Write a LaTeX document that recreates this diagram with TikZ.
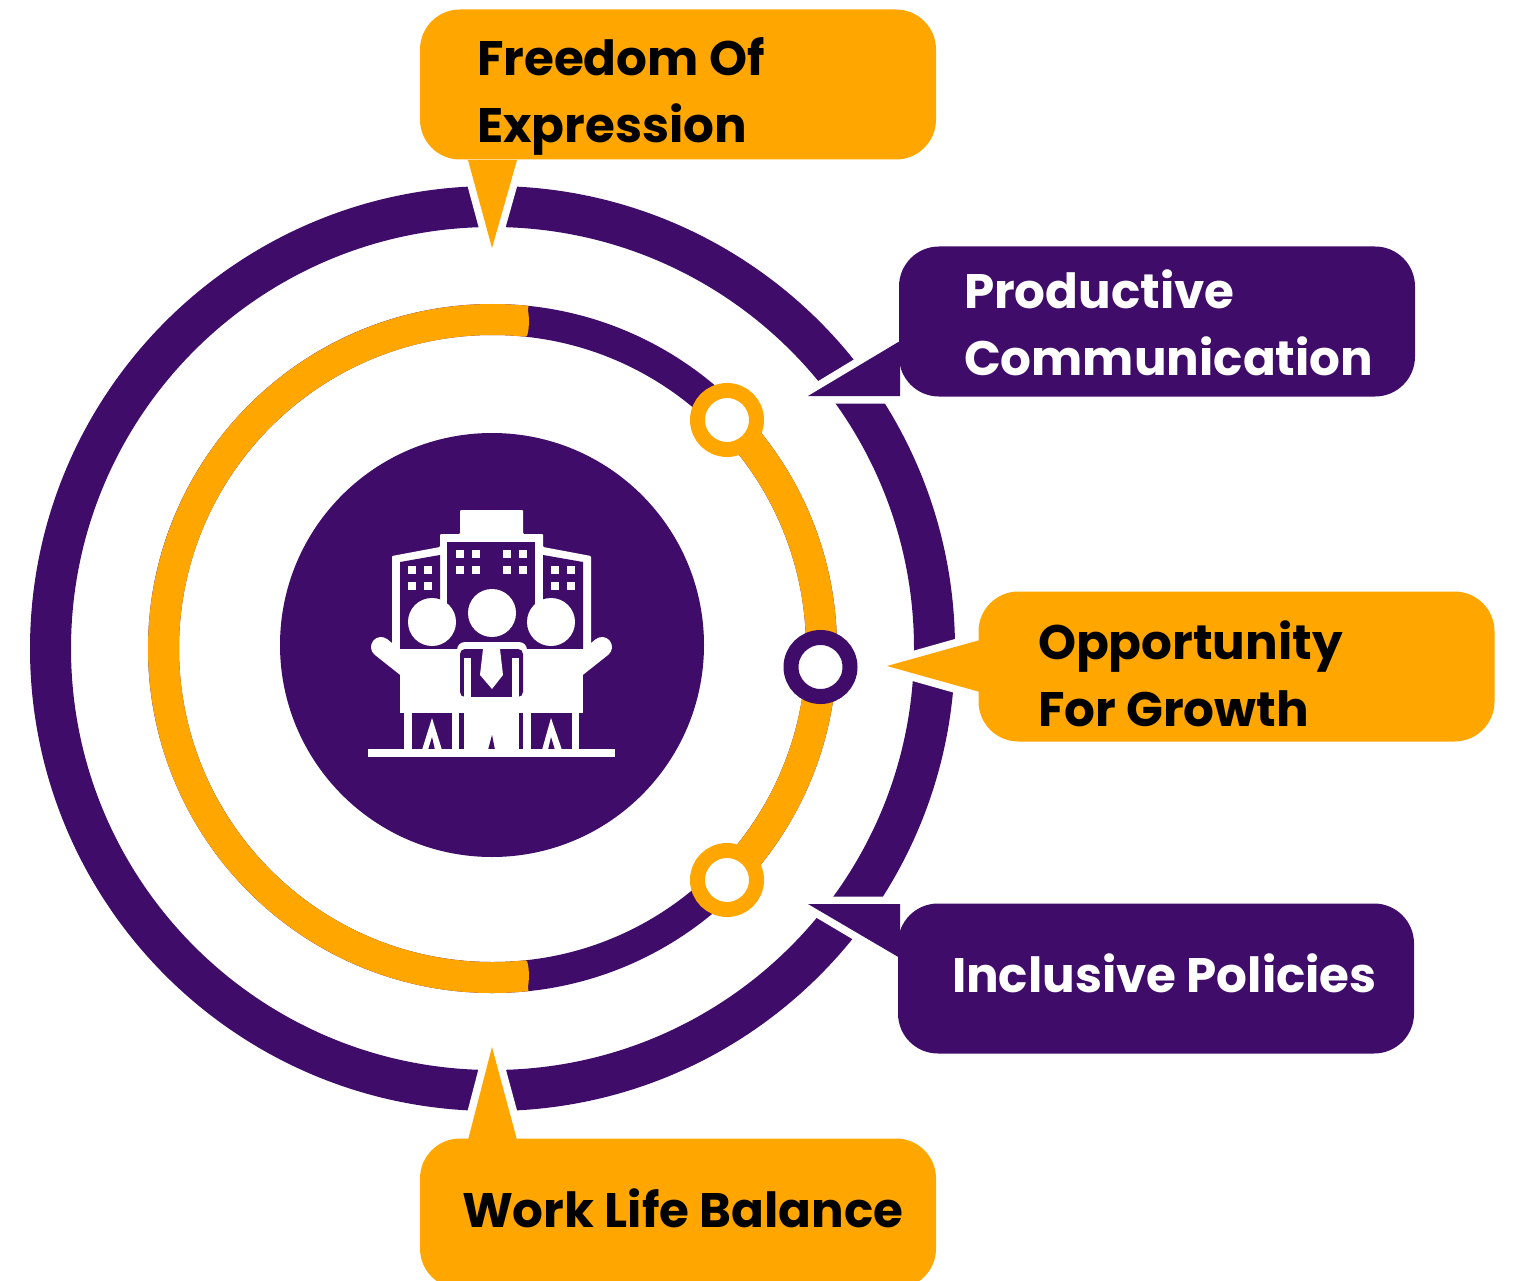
\documentclass[tikz,border=0pt]{standalone}
\usepackage{fontspec}
\setmainfont{Poppins}
\usetikzlibrary{positioning,calc}
\definecolor{ringpurple}{HTML}{3F0C69}
\definecolor{ringorange}{HTML}{FFA600}
\tikzset{
    calloutbox/.style={rounded corners=40pt,minimum width=516pt,minimum height=150pt,inner sep=0pt},
    calloutlabel/.style={inner sep=0pt,align=left,font=\fontsize{48.4}{67}\selectfont\bfseries},
    tailgap/.style={draw=white,line width=15pt},
    dotmark/.style={circle,minimum size=59pt,inner sep=0pt,line width=15pt,fill=white}
}
\begin{document}
\begin{tikzpicture}[x=1pt,y=-1pt]
    \path[use as bounding box,clip] (0,0) rectangle (1515,1281);
    \coordinate (hub) at (492.5,648.5);

    % Outer Ring
    \draw[ringpurple,line width=41pt] (hub) circle[radius=442];

    % Middle Ring
    \draw[ringpurple,line width=31pt] (hub) circle[radius=329];
    \draw[ringorange,line width=31pt] (hub) ++(84:329) arc[start angle=84,end angle=276,radius=329];
    \draw[ringorange,line width=31pt] (hub) ++(-45:329) arc[start angle=-45,end angle=45,radius=329];
    \fill[ringorange] (hub) ++(84:329) ++(-1,0) ellipse[x radius=3,y radius=15.5];
    \fill[ringorange] (hub) ++(-84:329) ++(-1,0) ellipse[x radius=3,y radius=15.5];

    % Hub
    \fill[ringpurple] (492,645) circle[radius=212];

    % Markers
    \node[dotmark,draw=ringorange] (dotA) at (727,420) {};
    \node[dotmark,draw=ringpurple] (dotB) at (820.5,667) {};
    \node[dotmark,draw=ringorange] (dotC) at (727,880) {};

    % Tail Gaps
    \draw[tailgap] (468,159) -- (492,248) -- (517,159);
    \draw[tailgap] (899,341) -- (808,396) -- (899,396);
    \draw[tailgap] (979,640) -- (887,666) -- (979,692);
    \draw[tailgap] (899,958) -- (808,904) -- (899,904);
    \draw[tailgap] (468,1139) -- (492,1047) -- (517,1139);

    % Callouts
    \node[calloutbox,fill=ringorange] (freedom) at (678,84.5) {};
    \node[calloutbox,fill=ringpurple] (productive) at (1157,321.5) {};
    \node[calloutbox,fill=ringorange] (opportunity) at (1236.5,666.5) {};
    \node[calloutbox,fill=ringpurple] (inclusive) at (1156,978.5) {};
    \node[calloutbox,fill=ringorange] (worklife) at (678,1213.5) {};

    % Tails
    \fill[ringorange] (468,160) -- (492,248) -- (517,160) -- cycle;
    \fill[ringpurple] (900,341) -- (808,396) -- (900,396) -- cycle;
    \fill[ringorange] (980,640) -- (887,666) -- (980,692) -- cycle;
    \fill[ringpurple] (900,958) -- (808,904) -- (900,904) -- cycle;
    \fill[ringorange] (468,1140) -- (492,1047) -- (517,1140) -- cycle;

    % Labels
    \node[calloutlabel,text=black,right=57pt of freedom.west,yshift=-11.5pt] (freedomtext) {Freedom Of\\Expression};
    \node[calloutlabel,text=white,right=65pt of productive.west,yshift=-1pt] (productivetext) {Productive\\Communication};
    \node[calloutlabel,text=black,right=59.5pt of opportunity.west,yshift=-7pt] (opportunitytext) {Opportunity\\For Growth};
    \node[calloutlabel,text=white,right=54pt of inclusive.west,yshift=5pt] (inclusivetext) {Inclusive Policies};
    \node[calloutlabel,text=black,right=42pt of worklife.west,yshift=5pt] (worklifetext) {Work Life Balance};

    % Buildings
    \fill[white,rounded corners=1pt] (392,556) -- (440,547) -- (440,534) -- (460,534) -- (460,510) -- (523,510) -- (523,534) -- (543,534) -- (543,547) -- (591,556) -- (591,650) -- (392,650) -- cycle;
    \fill[ringpurple] (400,562) -- (440,555) -- (440,649) -- (400,649) -- cycle;
    \fill[ringpurple] (447,542) rectangle (535,649);
    \fill[ringpurple] (543,555) -- (583,562) -- (583,649) -- (543,649) -- cycle;
    \fill[ringpurple] (400,612) rectangle (583,649);
    \foreach \x in {408,424,551,567} \foreach \y in {566,582} \fill[white] (\x,\y) rectangle ++(8,8);
    \foreach \x in {456,472,503,519} \foreach \y in {550,566} \fill[white] (\x,\y) rectangle ++(8,8);

    % People
    \fill[white] (432,622) circle[radius=24];
    \fill[white] (492,613) circle[radius=24];
    \fill[white] (551,622) circle[radius=24];
    \draw[white,line width=20pt,line cap=round] (381,647) -- (410,670);
    \draw[white,line width=20pt,line cap=round] (602,647) -- (573,670);
    \fill[white] (400,649) rectangle (583,713);
    \fill[white,rounded corners=8pt] (457,642) rectangle (527,660);
    \fill[ringpurple,rounded corners=5pt] (460,649) rectangle (523,697);
    \fill[white] (464,658) rectangle (471,700);
    \fill[white] (512,658) rectangle (519,700);
    \fill[white] (460,697) rectangle (523,713);
    \fill[white] (483,649) -- (500,649) -- (503,675) -- (492,689) -- (480,675) -- cycle;

    % Legs
    \fill[ringpurple] (412,713) rectangle (452,750);
    \fill[ringpurple] (459,713) rectangle (464,750);
    \fill[ringpurple] (519,713) rectangle (523,750);
    \fill[ringpurple] (531,713) rectangle (572,750);
    \fill[white] (404,713) rectangle (412,750);
    \fill[white] (572,713) rectangle (579,750);
    \fill[white] (452,713) rectangle (459,750);
    \fill[white] (464,713) rectangle (519,750);
    \fill[white] (523,713) rectangle (531,750);
    \fill[white] (422,750) -- (432,718) -- (442,750) -- cycle;
    \fill[white] (542,750) -- (551,718) -- (562,750) -- cycle;
    \fill[ringpurple] (428,750) -- (432,737) -- (435,750) -- cycle;
    \fill[ringpurple] (548,750) -- (551,737) -- (555,750) -- cycle;
    \fill[ringpurple] (488,750) -- (492,735) -- (495,750) -- cycle;
    \fill[white] (368,749) rectangle (615,757);
\end{tikzpicture}
\end{document}
